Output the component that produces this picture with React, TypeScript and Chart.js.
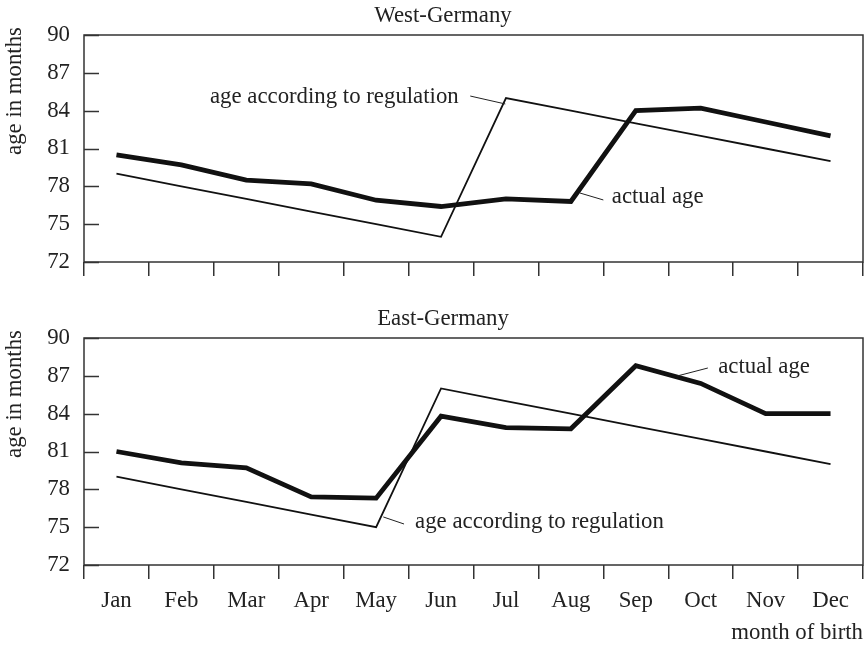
import React, { useEffect, useRef } from 'react';
import { Chart, registerables } from 'chart.js';

Chart.register(...registerables);

// ---- data ----
const months = ['Jan', 'Feb', 'Mar', 'Apr', 'May', 'Jun', 'Jul', 'Aug', 'Sep', 'Oct', 'Nov', 'Dec'];
const westRegulation = [79, 78, 77, 76, 75, 74, 85, 84, 83, 82, 81, 80];
const westActual = [80.5, 79.7, 78.5, 78.2, 76.9, 76.4, 77.0, 76.8, 84.0, 84.2, 83.1, 82.0];
const eastRegulation = [79, 78, 77, 76, 75, 86, 85, 84, 83, 82, 81, 80];
const eastActual = [81.0, 80.1, 79.7, 77.4, 77.3, 83.8, 82.9, 82.8, 87.8, 86.4, 84.0, 84.0];
const yMin = 72;
const yMax = 90;
const yStep = 3;
const labelRegulation = 'age according to regulation';
const labelActual = 'actual age';
const yTitle = 'age in months';
const xTitle = 'month of birth';

const FONT = '"Liberation Serif", "Times New Roman", serif';
const FONT_SIZE = 22.8;
const TEXT = '#222';
const INK = '#111';

type Note = { text: string; x: number; y: number; line: [number, number, number, number] };

const westNotes: Note[] = [
  { text: labelRegulation, x: 1.44, y: 85.08, line: [5.45, 85.16, 5.99, 84.53] },
  { text: labelActual, x: 7.63, y: 77.15, line: [7.14, 77.47, 7.5, 76.92] },
];
const eastNotes: Note[] = [
  { text: labelRegulation, x: 4.6, y: 75.41, line: [4.11, 75.81, 4.43, 75.25] },
  { text: labelActual, x: 9.27, y: 87.7, line: [8.64, 86.99, 9.11, 87.62] },
];

const framePlugin = {
  id: 'frame',
  afterDatasetsDraw(chart: any, _args: any, opts: any) {
    const { ctx, chartArea, scales } = chart;
    const { left, top, right, bottom } = chartArea;
    const x = scales.x;
    const y = scales.y;
    ctx.save();
    ctx.strokeStyle = '#333';
    ctx.lineWidth = 1.5;
    ctx.strokeRect(left, top, right - left, bottom - top);
    y.ticks.forEach((t: any) => {
      const py = Math.round(y.getPixelForValue(t.value)) + 0.5;
      ctx.beginPath();
      ctx.moveTo(left, py);
      ctx.lineTo(left + 15, py);
      ctx.stroke();
    });
    ctx.fillStyle = TEXT;
    ctx.font = `${FONT_SIZE}px ${FONT}`;
    ctx.textAlign = 'center';
    ctx.textBaseline = 'middle';
    ctx.fillText(opts.title, 443, top - 19);
    ctx.save();
    ctx.translate(15, top + 56);
    ctx.rotate(-Math.PI / 2);
    ctx.fillText(yTitle, 0, 0);
    ctx.restore();
    ctx.textAlign = 'left';
    ctx.lineWidth = 1;
    ctx.strokeStyle = '#222';
    (opts.notes as Note[]).forEach((n) => {
      ctx.fillText(n.text, x.getPixelForValue(n.x), y.getPixelForValue(n.y));
      ctx.beginPath();
      ctx.moveTo(x.getPixelForValue(n.line[0]), y.getPixelForValue(n.line[1]));
      ctx.lineTo(x.getPixelForValue(n.line[2]), y.getPixelForValue(n.line[3]));
      ctx.stroke();
    });
    ctx.restore();
  },
};

type PanelProps = {
  top: number;
  height: number;
  padTop: number;
  xHeight: number;
  title: string;
  regulation: number[];
  actual: number[];
  notes: Note[];
  showLabels: boolean;
};

function Panel(p: PanelProps) {
  const ref = useRef<HTMLCanvasElement | null>(null);
  useEffect(() => {
    if (!ref.current) return;
    const font = { family: FONT, size: FONT_SIZE };
    const chart = new Chart(ref.current, {
      type: 'line',
      data: {
        labels: months,
        datasets: [
          {
            label: labelRegulation,
            data: p.regulation,
            borderColor: INK,
            borderWidth: 1.8,
            pointRadius: 0,
            tension: 0,
            fill: false,
          },
          {
            label: labelActual,
            data: p.actual,
            borderColor: INK,
            borderWidth: 4.8,
            pointRadius: 0,
            tension: 0,
            fill: false,
          },
        ],
      },
      options: {
        responsive: false,
        animation: false,
        devicePixelRatio: 1,
        layout: { padding: { top: p.padTop, right: 1, left: 0, bottom: 0 } },
        plugins: {
          legend: { display: false },
          tooltip: { enabled: false },
          frame: { title: p.title, notes: p.notes },
        } as any,
        scales: {
          x: {
            type: 'category',
            offset: true,
            grid: {
              offset: true,
              drawOnChartArea: false,
              drawTicks: true,
              tickLength: 14,
              color: '#333',
              lineWidth: 1.5,
            },
            border: { display: false },
            ticks: {
              display: p.showLabels,
              font,
              color: TEXT,
              padding: 8,
              maxRotation: 0,
              autoSkip: false,
            },
            title: {
              display: p.showLabels,
              text: xTitle,
              align: 'end',
              font,
              color: TEXT,
              padding: { top: 0, bottom: -2 },
            },
            afterFit: (s: any) => {
              s.height = p.xHeight;
            },
          },
          y: {
            min: yMin,
            max: yMax,
            ticks: { stepSize: yStep, font, color: TEXT, padding: 14 },
            grid: { display: false, drawTicks: false },
            border: { display: false },
            afterFit: (s: any) => {
              s.width = 84;
            },
          },
        },
      } as any,
      plugins: [framePlugin as any],
    });
    return () => chart.destroy();
  }, []);
  return (
    <canvas
      ref={ref}
      width={864}
      height={p.height}
      style={{ position: 'absolute', left: 0, top: p.top, width: 864, height: p.height, display: 'block' }}
    />
  );
}

export default function App() {
  return (
    <div style={{ position: 'absolute', left: 0, top: 0, width: 864, height: 645, background: '#fff' }}>
      <Panel
        top={0}
        height={300}
        padTop={35}
        xHeight={38}
        title="West-Germany"
        regulation={westRegulation}
        actual={westActual}
        notes={westNotes}
        showLabels={false}
      />
      <Panel
        top={300}
        height={345}
        padTop={38}
        xHeight={80}
        title="East-Germany"
        regulation={eastRegulation}
        actual={eastActual}
        notes={eastNotes}
        showLabels={true}
      />
    </div>
  );
}
